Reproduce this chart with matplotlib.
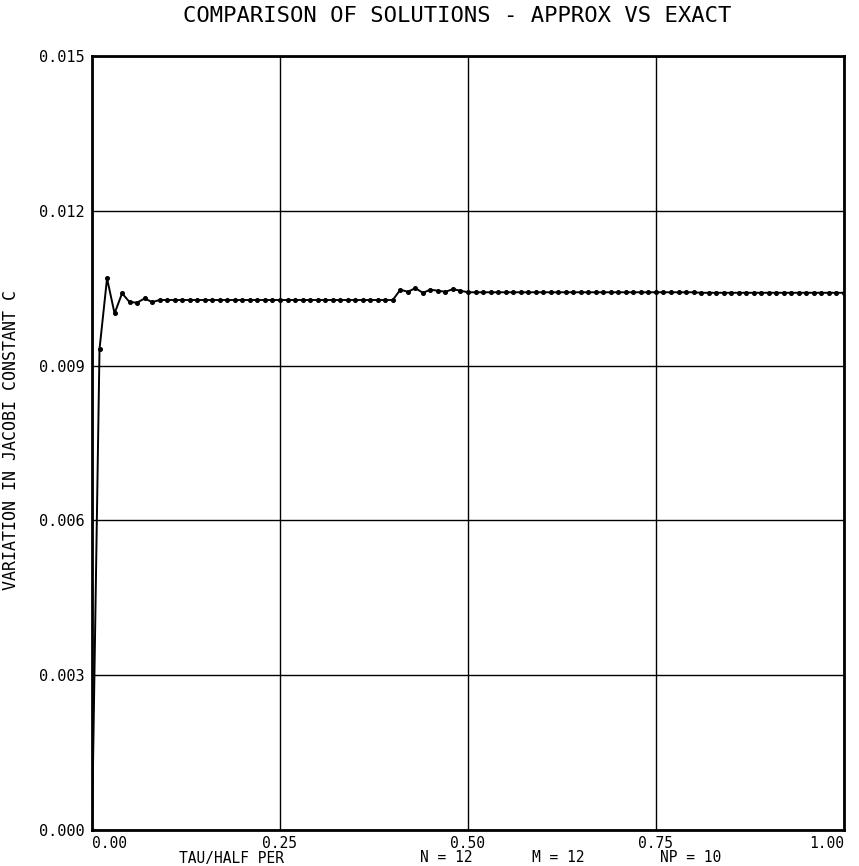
#comparison of approx vs exact solution - jacobi constant variation
import matplotlib
matplotlib.use("Agg")
import matplotlib.pyplot as plt
import numpy as np

TITLE = "COMPARISON OF SOLUTIONS - APPROX VS EXACT"
YLABEL = "VARIATION IN JACOBI CONSTANT C"
FOOTER = ["TAU/HALF PER", "N = 12", "M = 12", "NP = 10"]

#tau/half period, sampled every 0.01
tau = np.linspace(0.0, 1.0, 101)

#variation in jacobi constant
dC = [0.0,
      0.00932, 0.01069, 0.01001, 0.01040, 0.01023, 0.01022, 0.01030, 0.01023, 0.01027, 0.01027,
      0.01027, 0.01027, 0.01027, 0.01027, 0.01027, 0.01027, 0.01027, 0.01027, 0.01027, 0.01027,
      0.01027, 0.01027, 0.01027, 0.01027, 0.01027, 0.01027, 0.01027, 0.01027, 0.01027, 0.01027,
      0.01027, 0.01027, 0.01027, 0.01027, 0.01027, 0.01027, 0.01027, 0.01027, 0.01027, 0.01027,
      0.01047, 0.01043, 0.01050, 0.01041, 0.01047, 0.01045, 0.01043, 0.01048, 0.01045, 0.01042,
      0.01042, 0.01042, 0.01042, 0.01042, 0.01042, 0.01042, 0.01042, 0.01042, 0.01042, 0.01042,
      0.01042, 0.01042, 0.01042, 0.01042, 0.01042, 0.01042, 0.01042, 0.01042, 0.01042, 0.01042,
      0.01042, 0.01042, 0.01042, 0.01042, 0.01042, 0.01042, 0.01042, 0.01042, 0.01042, 0.01042,
      0.01041, 0.01041, 0.01041, 0.01041, 0.01041, 0.01041, 0.01041, 0.01041, 0.01041, 0.01041,
      0.01041, 0.01041, 0.01041, 0.01041, 0.01041, 0.01041, 0.01041, 0.01041, 0.01041, 0.01041]

xticks = [0.0, 0.25, 0.5, 0.75, 1.0]
yticks = [0.0, 0.003, 0.006, 0.009, 0.012, 0.015]

MONO = "DejaVu Sans Mono"

fig = plt.figure(figsize=(8.59, 8.66), dpi=100)
ax = fig.add_axes([0.1071, 0.0416, 0.8754, 0.8938])

ax.plot(tau, dC, color="black", linewidth=1.4, marker="o", markersize=2.6)

ax.set_xlim(0, 1)
ax.set_ylim(0, 0.015)
ax.set_xticks(xticks)
ax.set_yticks(yticks)
ax.set_xticklabels(["%.2f" % v for v in xticks], fontfamily=MONO, fontsize=10.5)
ax.set_yticklabels(["%.3f" % v for v in yticks], fontfamily=MONO, fontsize=11)
ax.tick_params(length=0, pad=5)
ax.tick_params(axis="x", pad=4)
ax.get_xticklabels()[0].set_horizontalalignment("left")
ax.get_xticklabels()[-1].set_horizontalalignment("right")
ax.grid(True, color="black", linewidth=1.0)

for sp in ax.spines.values():
    sp.set_linewidth(2.0)
    sp.set_color("black")

#y label placed by hand, close to the left edge
fig.text(11 / 859, 1 - 440 / 866, YLABEL, fontfamily=MONO, fontsize=12,
         rotation=90, ha="center", va="center")

fig.text(457 / 859, 1 - 16 / 866, TITLE, fontfamily=MONO, fontsize=16,
         ha="center", va="center")

#footer row under the x axis
footer_x = [179, 420, 532, 660]
for txt, px in zip(FOOTER, footer_x):
    fig.text(px / 859, 1 - 858 / 866, txt, fontfamily=MONO, fontsize=10.5,
             ha="left", va="center")

fig.savefig("out.png", dpi=100)
